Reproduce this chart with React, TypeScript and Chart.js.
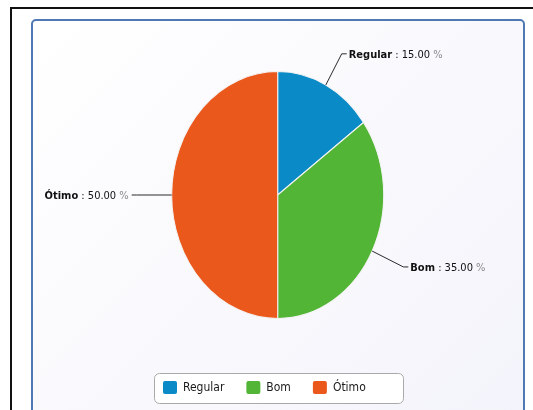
import React, { useEffect, useRef } from 'react';
import { Chart, registerables } from 'chart.js';

Chart.register(...registerables);

const categories = ['Regular', 'Bom', 'Ótimo'];
const values = [15, 35, 50];
const colors = ['#0a8bc7', '#53b536', '#eb581c'];

const W = 533;
const H = 410;
const CX = 277.7;
const CY = 195;
const RX = 106;
const RY = 123.5;
const FONT = "'DejaVu Sans Condensed', 'DejaVu Sans', sans-serif";

const ellipsePlugin = {
  id: 'ellipse',
  beforeDatasetsDraw(chart: any) {
    const ctx = chart.ctx;
    ctx.save();
    ctx.translate(CX, CY);
    ctx.scale(1, RY / RX);
    ctx.translate(-CX, -CY);
  },
  afterDatasetsDraw(chart: any) {
    chart.ctx.restore();
  },
};

const labelPlugin = {
  id: 'outLabels',
  afterDraw(chart: any) {
    const ctx = chart.ctx;
    const meta = chart.getDatasetMeta(0);
    const data = chart.data.datasets[0].data as number[];
    const total = data.reduce((a, b) => a + b, 0);
    ctx.save();
    meta.data.forEach((arc: any, i: number) => {
      const mid = (arc.startAngle + arc.endAngle) / 2;
      const c = Math.cos(mid);
      const s = Math.sin(mid);
      const k = RY / RX;
      const r = arc.outerRadius;
      const ex = arc.x + r * c;
      const ey = arc.y + r * k * s;
      const ox = arc.x + (r + 35) * c;
      const oy = arc.y + (r + 30) * k * s;
      const right = c >= -0.01;
      const hx = ox + (right ? 5 : -5);
      ctx.strokeStyle = '#2a2a2a';
      ctx.lineWidth = 1;
      ctx.beginPath();
      ctx.moveTo(ex, ey);
      ctx.lineTo(ox, oy);
      ctx.lineTo(hx, oy);
      ctx.stroke();

      const name = chart.data.labels[i] as string;
      const pct = ((data[i] / total) * 100).toFixed(2);
      const parts = [
        { t: name, f: `bold 11px ${FONT}`, col: '#111' },
        { t: ` : ${pct} `, f: `11px ${FONT}`, col: '#111' },
        { t: '%', f: `11px ${FONT}`, col: '#8a8a8a' },
      ];
      const widths = parts.map((p) => {
        ctx.font = p.f;
        return ctx.measureText(p.t).width;
      });
      const tw = widths.reduce((a, b) => a + b, 0);
      let x = right ? hx + 2 : hx - 3 - tw;
      ctx.textBaseline = 'middle';
      ctx.textAlign = 'left';
      parts.forEach((p, j) => {
        ctx.font = p.f;
        ctx.fillStyle = p.col;
        ctx.fillText(p.t, x, oy + 1);
        x += widths[j];
      });
    });

    // legend
    const bx = 154.5;
    const by = 373.5;
    const bw = 249;
    const bh = 30;
    ctx.beginPath();
    ctx.roundRect(bx, by, bw, bh, 5);
    ctx.fillStyle = '#ffffff';
    ctx.fill();
    ctx.strokeStyle = '#a9a9a9';
    ctx.lineWidth = 1;
    ctx.stroke();
    let lx = 163;
    ctx.font = `12px ${FONT}`;
    (chart.data.labels as string[]).forEach((lab: string, i: number) => {
      ctx.beginPath();
      ctx.roundRect(lx, 381, 14, 13, 2);
      ctx.fillStyle = colors[i];
      ctx.fill();
      ctx.fillStyle = '#1a1a1a';
      ctx.textBaseline = 'middle';
      ctx.fillText(lab, lx + 20, 388);
      lx += 20 + ctx.measureText(lab).width + 22;
    });
    ctx.restore();
  },
};

export default function App() {
  const ref = useRef<HTMLCanvasElement>(null);
  useEffect(() => {
    if (!ref.current) return;
    const chart = new Chart(ref.current, {
      type: 'pie',
      data: {
        labels: categories,
        datasets: [
          {
            data: values,
            backgroundColor: colors,
            borderColor: '#f4f4f4',
            borderWidth: 1,
            radius: RX,
            clip: false,
          } as any,
        ],
      },
      options: {
        animation: false,
        responsive: false,
        devicePixelRatio: 1,
        layout: {
          padding: {
            left: CX - RX,
            right: W - (CX + RX),
            top: CY - RX,
            bottom: H - (CY + RX),
          },
        },
        plugins: {
          legend: { display: false },
          tooltip: { enabled: false },
        },
      },
      plugins: [ellipsePlugin, labelPlugin],
    });
    return () => chart.destroy();
  }, []);

  return (
    <div
      style={{
        position: 'fixed',
        left: 0,
        top: 0,
        width: W,
        height: H,
        overflow: 'hidden',
        background: '#fff',
      }}
    >
      <div
        style={{
          position: 'absolute',
          left: 10,
          top: 7,
          width: 700,
          height: 600,
          borderLeft: '2px solid #111',
          borderTop: '2px solid #111',
        }}
      />
      <div
        style={{
          position: 'absolute',
          left: 31,
          top: 19,
          width: 490,
          height: 420,
          border: '2px solid #5079b3',
          borderRadius: 5,
          background: 'linear-gradient(135deg, #ffffff 0%, #f3f3fb 100%)',
        }}
      />
      <canvas
        ref={ref}
        width={W}
        height={H}
        style={{ position: 'absolute', left: 0, top: 0, width: W, height: H }}
      />
    </div>
  );
}
